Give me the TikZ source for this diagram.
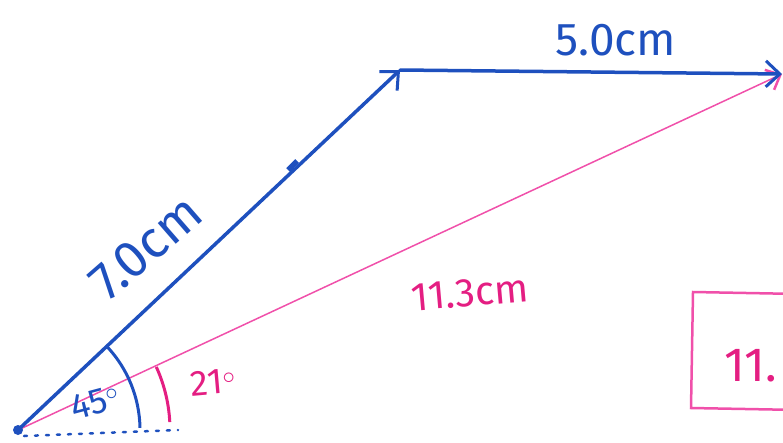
\documentclass[tikz,border=0pt]{standalone}
\usepackage{fontspec}
\setmainfont{Fira Sans}
\usetikzlibrary{arrows.meta}
\definecolor{penblue}{RGB}{30,80,190}
\definecolor{penpink}{RGB}{240,80,170}
\definecolor{penmag}{RGB}{228,30,130}
\tikzset{
  bluevec/.style={draw=penblue,line width=3.5pt,line cap=round,-{Straight Barb[length=14pt,width=26pt,line width=3pt]}},
  pinkvec/.style={draw=penpink,line width=1.5pt,line cap=round,-{Straight Barb[length=12pt,width=22pt,line width=2.5pt]}},
  bluelbl/.style={text=penblue,inner sep=0pt},
  pinklbl/.style={text=penmag,inner sep=0pt},
}
\newcommand{\fsz}[1]{\fontsize{#1}{#1}\selectfont}
\begin{document}
\begin{tikzpicture}[x=1pt,y=-1pt]
\useasboundingbox (0,0) rectangle (783,442);
\clip (0,0) rectangle (783,442);
\coordinate (O) at (18,430);
\coordinate (A) at (400,70);
\coordinate (B) at (782,74);
% dotted baseline
\draw[penblue,line width=2.5pt,dash pattern=on 3pt off 8pt,line cap=round] (24,436) -- (178,430);
% vectors
\draw[pinkvec] (O) -- (B);
\draw[bluevec] (O) -- (A);
\draw[bluevec] (A) -- (B);
\fill[penblue] (O) circle (5pt);
% tick mark on first vector
\draw[penblue,line width=5pt] (288,170) -- (297,161);
% angle arcs
\draw[penblue,line width=3pt] (O) ++(-43.3:122) arc[start angle=-43.3,end angle=-1,radius=122];
\draw[penmag,line width=3pt] (O) ++(-24.5:152) arc[start angle=-24.5,end angle=-3,radius=152];
% labels
\node[bluelbl,rotate=41,font=\fsz{52}] (l7) at (146,247) {7.0cm};
\node[bluelbl,font=\fsz{46}] (l5) at (616,40) {5.0cm};
\node[pinklbl,font=\fsz{40},rotate=5] (l11) at (470,293) {11.3cm};
\node[bluelbl,font=\fsz{36},rotate=15] (l45) at (95,402) {45$^\circ$};
\node[pinklbl,font=\fsz{36},rotate=5] (l21) at (213,382) {21$^\circ$};
% result box
\draw[penpink,line width=2.5pt] (693,292) -- (800,294) -- (800,410) -- (691,408) -- cycle;
\node[pinklbl,font=\fsz{48},anchor=west] (res) at (724,366) {11.};
\end{tikzpicture}
\end{document}
